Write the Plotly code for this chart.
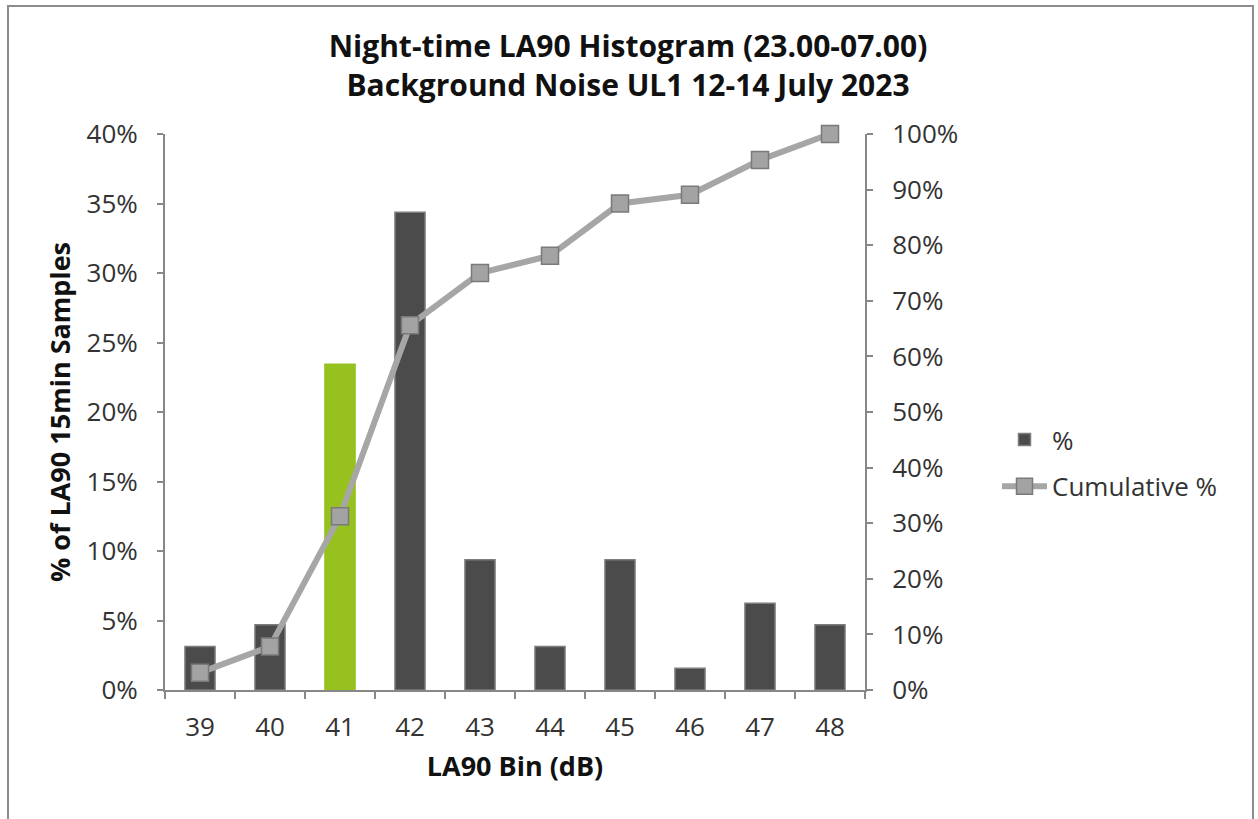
import plotly.graph_objects as go

bins = ["39", "40", "41", "42", "43", "44", "45", "46", "47", "48"]
pct = [0.03125, 0.046875, 0.234375, 0.34375, 0.09375, 0.03125, 0.09375, 0.015625, 0.0625, 0.046875]
cum = [0.03125, 0.078125, 0.3125, 0.65625, 0.75, 0.78125, 0.875, 0.890625, 0.953125, 1.0]
bar_colors = ["#4b4b4b", "#4b4b4b", "#96c11f", "#4b4b4b", "#4b4b4b", "#4b4b4b", "#4b4b4b", "#4b4b4b", "#4b4b4b", "#4b4b4b"]
line_colors = ["#7d7d7d", "#7d7d7d", "#96c11f", "#7d7d7d", "#7d7d7d", "#7d7d7d", "#7d7d7d", "#7d7d7d", "#7d7d7d", "#7d7d7d"]

FONT = "Open Sans"
AX = "#878787"
TXT = "#333333"

L, R, T, B = 165, 865, 134, 690
W, H = 1258, 819
PW, PH = R - L, B - T

fig = go.Figure()
fig.add_trace(go.Bar(
    x=bins, y=pct, name="%", yaxis="y",
    marker=dict(color=bar_colors, line=dict(color=line_colors, width=1.5)),
    legendgroup="a",
))
fig.add_trace(go.Scatter(
    x=bins, y=cum, name="Cumulative %", yaxis="y2", mode="lines+markers",
    line=dict(color="#a6a6a6", width=6),
    marker=dict(symbol="square", size=17, color="#a3a3a3", line=dict(color="#7a7a7a", width=1.5)),
    legendgroup="b", cliponaxis=False,
))

fig.update_layout(
    width=W, height=H,
    margin=dict(l=L, r=W - R, t=T, b=H - B),
    paper_bgcolor="white", plot_bgcolor="white",
    font=dict(family=FONT, size=26, color=TXT),
    title=dict(
        text="<b>Night-time LA90 Histogram (23.00-07.00)<br>Background Noise UL1 12-14 July 2023</b>",
        x=628 / W, xanchor="center", y=1 - 57 / H, yanchor="middle",
        font=dict(family=FONT, size=30, color="#111111"),
    ),
    bargap=0.57,
    showlegend=True,
    legend=dict(
        xref="container", yref="container",
        x=997 / W, xanchor="left",
        y=1 - 416 / H, yanchor="top",
        font=dict(family=FONT, size=26, color=TXT),
        traceorder="grouped", tracegroupgap=10,
        bgcolor="rgba(0,0,0,0)",
        itemwidth=45,
    ),
    xaxis=dict(
        type="category", range=[-0.5, 9.5], tickson="boundaries", ticks="outside", ticklen=7, tickwidth=2, tickcolor=AX,
        showline=True, linecolor=AX, linewidth=2, showgrid=False,
        ticklabelstandoff=13,
        title=dict(text="<b>LA90 Bin (dB)</b>", font=dict(family=FONT, size=27, color="#111111"), standoff=14),
        tickfont=dict(size=26, color=TXT),
    ),
    yaxis=dict(
        range=[0, 0.4], dtick=0.05, tickformat=".0%", ticks="outside", ticklen=6, tickwidth=2, tickcolor=AX,
        showline=True, linecolor=AX, linewidth=2, showgrid=False, zeroline=False,
        ticklabelstandoff=14,
        title=dict(text="<b>% of LA90 15min Samples</b>", font=dict(family=FONT, size=27, color="#111111"), standoff=8),
        tickfont=dict(size=26, color=TXT),
    ),
    yaxis2=dict(
        range=[0, 1], dtick=0.1, tickformat=".0%", overlaying="y", side="right",
        ticks="outside", ticklen=6, tickwidth=2, tickcolor=AX,
        showline=True, linecolor=AX, linewidth=2, showgrid=False, zeroline=False,
        ticklabelstandoff=14,
        tickfont=dict(size=26, color=TXT),
    ),
    shapes=[dict(
        type="rect", xref="paper", yref="paper",
        x0=(8 - L) / PW, x1=(1253 - L) / PW,
        y0=(B - 840) / PH, y1=(B - 6) / PH,
        line=dict(color="#8c8c8c", width=2), fillcolor="rgba(0,0,0,0)", layer="below",
    )],
)

fig.write_html("out.html", config={"displayModeBar": False},
               post_script="document.body.style.margin='0';")
